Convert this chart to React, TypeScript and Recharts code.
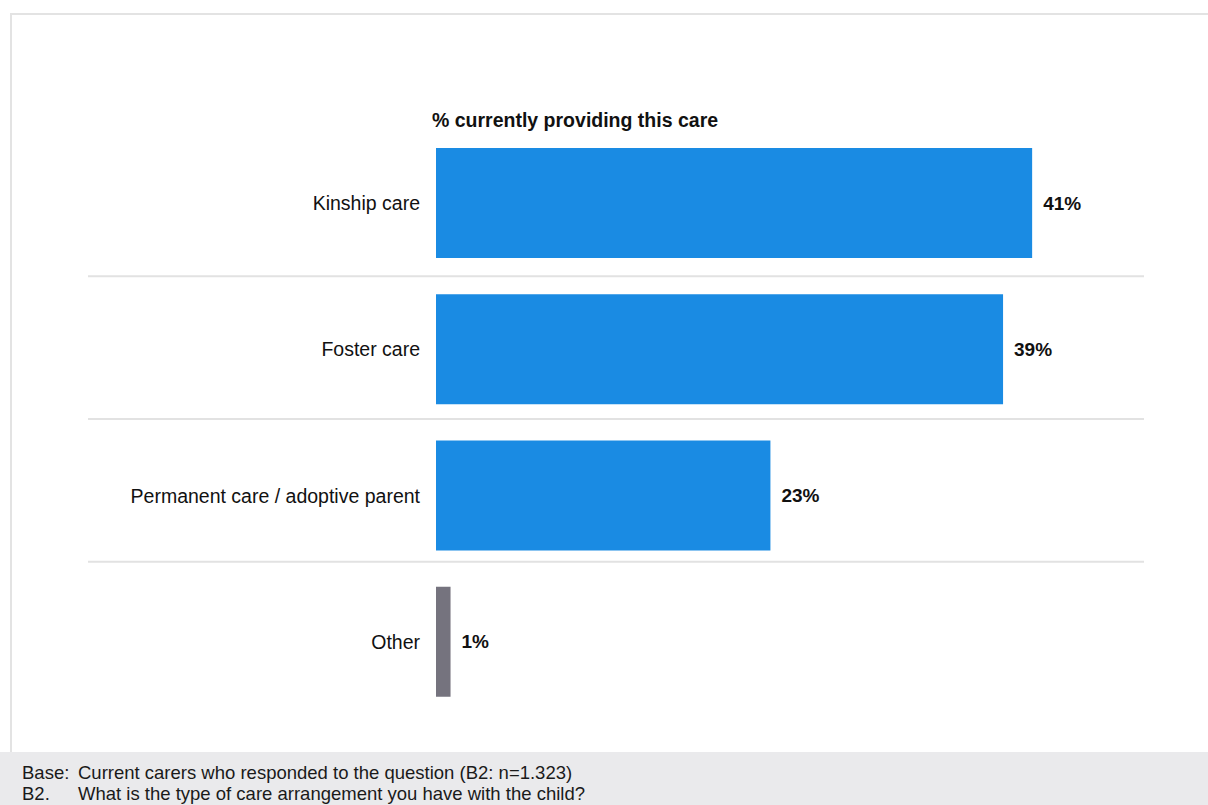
import React from "react";
import { BarChart, Bar, XAxis, YAxis, Cell, LabelList } from "recharts";

const categories = ["Kinship care", "Foster care", "Permanent care / adoptive parent", "Other"];
const percentValues = [41, 39, 23, 1];
const barColors = ["#1a8be3", "#1a8be3", "#1a8be3", "#75737e"];
const chartTitle = "% currently providing this care";
const footnotes = [
  ["Base:", "Current carers who responded to the question (B2: n=1.323)"],
  ["B2.", "What is the type of care arrangement you have with the child?"],
];

const data = categories.map((name, i) => ({ name, value: percentValues[i] }));

const FONT = "'Liberation Sans', Arial, Helvetica, sans-serif";

const CategoryTick = (props: any) => {
  const { x, y, payload, index } = props;
  const sepY = y + 73 - index * 3.5;
  return (
    <g>
      <text
        x={x - 16}
        y={y}
        textAnchor="end"
        dominantBaseline="central"
        fontSize={19.5}
        fontFamily={FONT}
        fill="#111"
      >
        {payload.value}
      </text>
      {index < categories.length - 1 && (
        <line x1={x - 348} x2={x + 708} y1={sepY} y2={sepY} stroke="#e2e2e2" strokeWidth={2} />
      )}
    </g>
  );
};

export default function App() {
  return (
    <div style={{ position: "absolute", left: 0, top: 0, width: 1208, height: 805, background: "#fff", overflow: "hidden", fontFamily: FONT }}>
      <div
        style={{
          position: "absolute",
          left: 10,
          top: 13,
          width: 1198,
          height: 740,
          borderTop: "2px solid #e3e3e3",
          borderLeft: "2px solid #e3e3e3",
          boxSizing: "border-box",
        }}
      />
      <div style={{ position: "absolute", left: 0, top: 0 }}>
        <BarChart
          width={1208}
          height={805}
          data={data}
          layout="vertical"
          margin={{ top: 130, right: 45, bottom: 90, left: 0 }}
        >
          <XAxis type="number" domain={[0, 50]} hide />
          <YAxis
            type="category"
            dataKey="name"
            width={436}
            axisLine={false}
            tickLine={false}
            tickSize={0}
            tickMargin={0}
            tick={<CategoryTick />}
            interval={0}
          />
          <Bar dataKey="value" barSize={110} isAnimationActive={false}>
            {data.map((d, i) => (
              <Cell key={d.name} fill={barColors[i]} />
            ))}
            <LabelList
              dataKey="value"
              position="right"
              offset={11}
              formatter={(v: any) => `${v}%`}
              style={{ fontSize: 19, fontWeight: 700, fill: "#111", fontFamily: FONT }}
            />
          </Bar>
        </BarChart>
      </div>
      <div
        style={{
          position: "absolute",
          left: 432,
          top: 111,
          fontSize: 19.5,
          lineHeight: "19.5px",
          fontWeight: 700,
          color: "#111",
          whiteSpace: "nowrap",
        }}
      >
        {chartTitle}
      </div>
      <div style={{ position: "absolute", left: 0, top: 752, width: 1208, height: 53, background: "#eaeaec" }}>
        {footnotes.map((row, i) => (
          <div
            key={i}
            style={{
              position: "absolute",
              top: 12 + i * 21,
              left: 0,
              fontSize: 18.5,
              lineHeight: "18.5px",
              color: "#1a1a1a",
              whiteSpace: "nowrap",
            }}
          >
            <span style={{ position: "absolute", left: 22 }}>{row[0]}</span>
            <span style={{ position: "absolute", left: 78 }}>{row[1]}</span>
          </div>
        ))}
      </div>
    </div>
  );
}
